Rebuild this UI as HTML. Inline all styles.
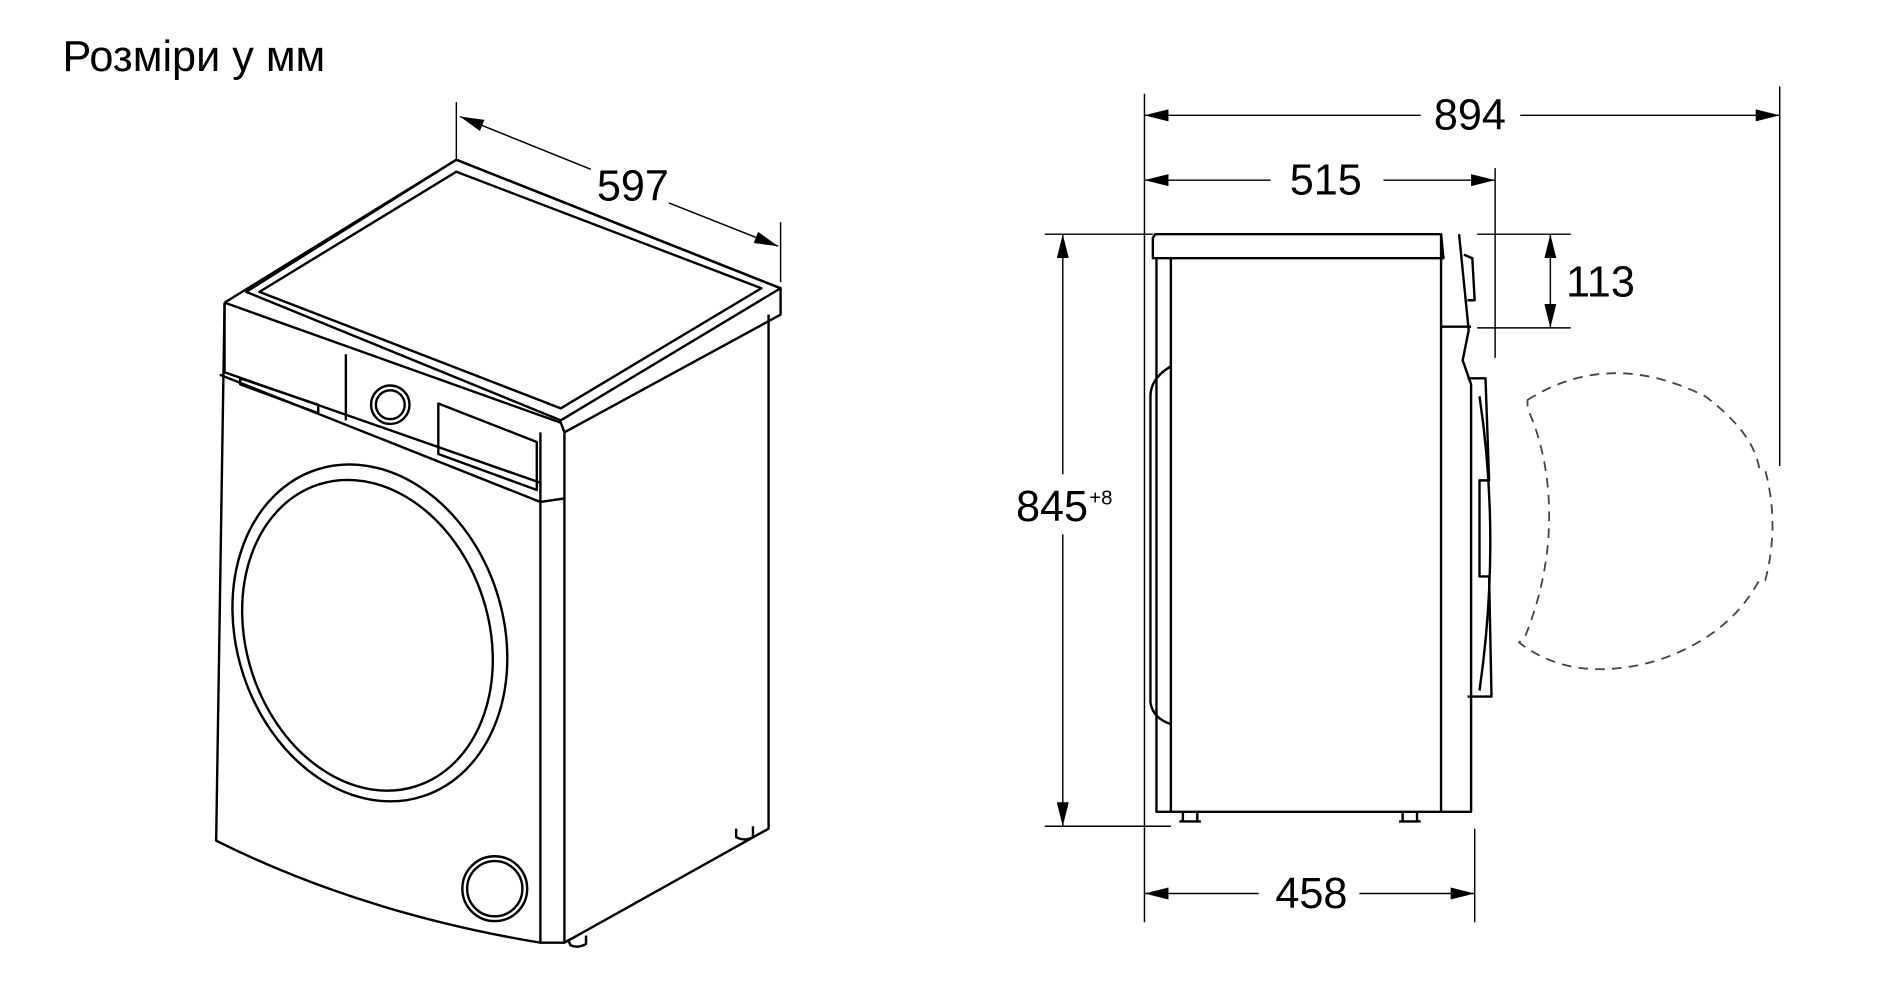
<!DOCTYPE html>
<html><head><meta charset="utf-8"><style>
html,body{margin:0;padding:0;background:#fff}
svg{display:block}
text{font-family:"Liberation Sans",sans-serif;fill:#000}
</style></head><body>
<svg width="1883" height="1007" viewBox="0 0 1568 838.5" xmlns="http://www.w3.org/2000/svg">
<defs>
<marker id="b" viewBox="0 0 20 10" refX="20" refY="5" markerWidth="20" markerHeight="10" markerUnits="userSpaceOnUse" orient="auto-start-reverse"><path d="M0,0 L20,5 L0,10 z" fill="#000"/></marker>
</defs>
<text x="52" y="59" font-size="36">Розміри у мм</text>

<g fill="none" stroke="#000" stroke-width="2" stroke-linejoin="round">
<path d="M187,252 L380,133 L650,240 L650,262 L470,360"/>
<path d="M205,243 L380,133 L650,240 L467,350 Z"/>
<path d="M216,243 L380,143 L634,240 L467,340 Z"/>
<path d="M187,252 L467,352 L470,360"/>
<path d="M187,252 L180,700 Q300,760 450,785 L470,785"/>
<path d="M187,252 L187,310 L450,402"/>
<path d="M183,312 L450,418 L470,415"/>
<path d="M450,360 L450,785"/>
<path d="M470,360 L470,785 L640,690 L640,262"/>
<path d="M200,315 L265,337 L265,344 L200,320 Z"/>
<path d="M288,295 L288,350"/>
<circle cx="325" cy="337" r="16"/><circle cx="325" cy="337" r="12"/>
<path d="M365,336 L447,368 L447,408 L365,378 Z"/>
<ellipse cx="308" cy="527" rx="111" ry="143" transform="rotate(-18 308 527)"/>
<ellipse cx="306" cy="529" rx="101" ry="132" transform="rotate(-18 306 529)"/>
<circle cx="412" cy="740" r="27"/><circle cx="412" cy="740" r="23"/>
<path d="M613,690 L613,697 Q620,701 627,697 L627,688"/>
<path d="M473,782 L475,787 Q481,790 488,786 L488,779"/>

<path d="M962,195 L1200,195 L1202,215 L960,215 L960,198 Z"/>
<path d="M963,215 L963,676 L1200,676"/>
<path d="M975,215 L975,676"/>
<path d="M1200,195 L1200,676 L1225,676 L1225,320 L1218,300 L1223,275 L1215,195"/>
<path d="M1200,272 L1225,272"/>
<path d="M1219,212 L1226,215 L1228,250 L1222,250"/>
<path d="M975,305 Q958,315 958,330 L958,585 Q960,598 975,603"/>
<path d="M1222,315 L1237,315 L1240,400 L1232,400 L1232,480 L1240,480 L1242,580 L1222,580"/>
<path d="M1232,330 Q1250,450 1232,575"/>
<path d="M985,676 L985,684 L997,684 L997,676 M982,684 L1000,684"/>
<path d="M1168,676 L1168,684 L1180,684 L1180,676 M1165,684 L1183,684"/>
</g>
<path d="M1272,333 Q1340,290 1420,330 Q1460,360 1465,390 L1470,392 Q1482,437 1470,483 L1465,483 Q1440,530 1380,550 Q1310,570 1265,535 L1270,530 Q1290,480 1290,430 Q1290,380 1272,340 Z" fill="none" stroke="#444" stroke-width="1.5" stroke-dasharray="8,6"/>

<g stroke="#000" stroke-width="1.2" fill="none">
<line x1="380" y1="85" x2="380" y2="133"/>
<line x1="650" y1="185" x2="650" y2="235"/>
<line x1="383" y1="97" x2="492" y2="141" marker-start="url(#b)"/>
<line x1="557" y1="169" x2="648" y2="205" marker-end="url(#b)"/>
<line x1="953" y1="78" x2="953" y2="768"/>
<line x1="1482" y1="72" x2="1482" y2="388"/>
<line x1="1245" y1="140" x2="1245" y2="298"/>
<line x1="1228" y1="690" x2="1228" y2="768"/>
<line x1="870" y1="195" x2="960" y2="195"/>
<line x1="870" y1="688" x2="975" y2="688"/>
<line x1="1230" y1="195" x2="1308" y2="195"/>
<line x1="1230" y1="273" x2="1308" y2="273"/>
<line x1="953" y1="96" x2="1183" y2="96" marker-start="url(#b)"/>
<line x1="1266" y1="96" x2="1482" y2="96" marker-end="url(#b)"/>
<line x1="953" y1="150" x2="1058" y2="150" marker-start="url(#b)"/>
<line x1="1152" y1="150" x2="1245" y2="150" marker-end="url(#b)"/>
<line x1="953" y1="744" x2="1048" y2="744" marker-start="url(#b)"/>
<line x1="1132" y1="744" x2="1228" y2="744" marker-end="url(#b)"/>
<line x1="885" y1="195" x2="885" y2="395" marker-start="url(#b)"/>
<line x1="885" y1="445" x2="885" y2="688" marker-end="url(#b)"/>
<line x1="1291" y1="195" x2="1291" y2="273" marker-start="url(#b)" marker-end="url(#b)"/>
</g>
<text x="527" y="167" font-size="36" text-anchor="middle">597</text>
<text x="1224" y="108" font-size="36" text-anchor="middle">894</text>
<text x="1104" y="162" font-size="36" text-anchor="middle">515</text>
<text x="1092" y="756" font-size="36" text-anchor="middle">458</text>
<text x="1304" y="247" font-size="36">113</text>
<text x="846" y="434" font-size="36">845</text>
<text x="907" y="420" font-size="17">+8</text>
</svg>
</body></html>
